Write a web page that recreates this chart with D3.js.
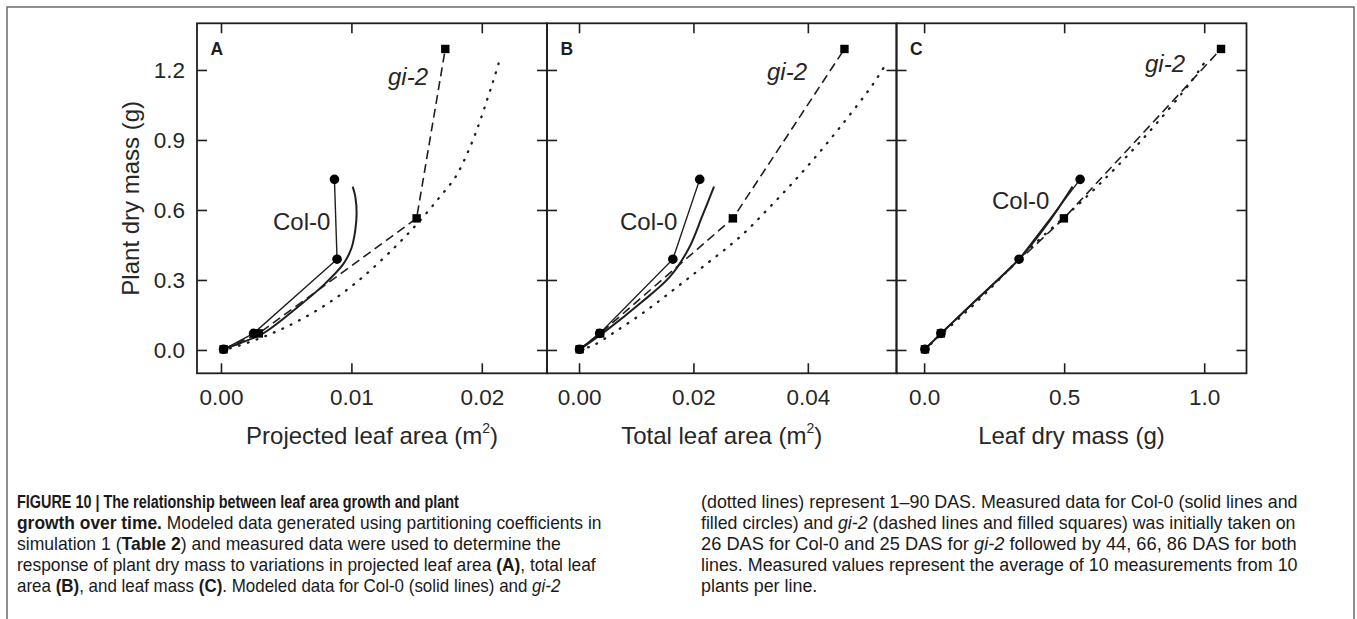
<!DOCTYPE html>
<html>
<head>
<meta charset="utf-8">
<script src="https://cdn.jsdelivr.net/npm/d3@7"></script>
<style>
  body { margin: 0; background: #fff; }
  svg { display: block; font-family: "Liberation Sans", Arial, Helvetica, sans-serif; }
</style>
</head>
<body>
<svg id="fig" width="1357" height="619"></svg>
<script>
// ---- Measured data: plant dry mass (g) at 26/25, 44, 66, 86 DAS ----
const col0DryMass  = [0.003, 0.071, 0.389, 0.731];
const gi2DryMass   = [0.003, 0.071, 0.564, 1.290];
// projected leaf area (m2)
const col0ProjArea = [0.0002, 0.0025, 0.0089, 0.0087];
const gi2ProjArea  = [0.0002, 0.0029, 0.0150, 0.0172];
// total leaf area (m2)
const col0TotalArea = [0.0001, 0.0036, 0.0164, 0.0211];
const gi2TotalArea  = [0.0001, 0.0037, 0.0269, 0.0464];
// leaf dry mass (g)
const col0LeafMass = [0.003, 0.060, 0.339, 0.557];
const gi2LeafMass  = [0.003, 0.060, 0.499, 1.060];

// ---- Modeled data, 1-90 DAS: [x, plant dry mass] ----
const col0ModelA = [[0,0],[0.0015,0.030],[0.0032,0.070],[0.0058,0.180],[0.0079,0.280],[0.0094,0.370],
                    [0.0100,0.436],[0.0103,0.514],[0.0104,0.586],[0.0103,0.657],[0.0101,0.700]];
const gi2ModelA  = [[0,0],[0.0007,0.007],[0.0033,0.057],[0.0058,0.121],[0.0084,0.207],[0.0109,0.314],
                    [0.0135,0.450],[0.0153,0.557],[0.0168,0.657],[0.0180,0.743],[0.0190,0.857],
                    [0.0198,0.971],[0.0204,1.071],[0.0209,1.157],[0.0213,1.230]];
const col0ModelB = [[0,0],[0.0049,0.086],[0.0107,0.200],[0.0159,0.314],[0.0192,0.436],[0.0215,0.571],[0.0236,0.700]];
const gi2ModelB  = [[0,0],[0.0025,0.020],[0.0063,0.078],[0.0117,0.168],[0.0171,0.269],[0.0224,0.371],
                    [0.0282,0.486],[0.0340,0.629],[0.0399,0.786],[0.0457,0.957],[0.0515,1.143],[0.0539,1.236]];
const col0ModelC = [[0,0],[0.060,0.070],[0.200,0.230],[0.340,0.390],[0.440,0.540],[0.530,0.700]];
const gi2ModelC  = [[0,0],[0.060,0.065],[0.200,0.220],[0.378,0.436],[0.568,0.643],[0.711,0.814],
                    [0.830,0.971],[0.949,1.143],[1.000,1.230]];

// ---- Tick values ----
const yTicks  = [0, 0.3, 0.6, 0.9, 1.2];
const xTicksA = [0, 0.01, 0.02];
const xTicksB = [0, 0.02, 0.04];
const xTicksC = [0, 0.5, 1.0];

const svg = d3.select("#fig");
const ink = "#1e1e1e";

// outer figure frame
svg.append("rect").attr("x", 7).attr("y", 7).attr("width", 1347).attr("height", 640)
  .attr("fill", "none").attr("stroke", "#6a6a6a").attr("stroke-width", 1.5);

const plotTop = 23.3, plotBottom = 373.3;
const y = d3.scaleLinear().domain([-0.1, 1.4]).range([plotBottom, plotTop]);

const panels = [
  { letter: "A", left: 197, right: 547, xDomain: [-0.00184, 0.0250], ticks: xTicksA, fmt: ".2f",
    title: "Projected leaf area (m", sup: "2", end: ")",
    col0X: col0ProjArea, gi2X: gi2ProjArea, col0Model: col0ModelA, gi2Model: gi2ModelA,
    gi2Label: [388, 85], col0Label: [273, 230] },
  { letter: "B", left: 547, right: 896.5, xDomain: [-0.0056, 0.0555], ticks: xTicksB, fmt: ".2f",
    title: "Total leaf area (m", sup: "2", end: ")",
    col0X: col0TotalArea, gi2X: gi2TotalArea, col0Model: col0ModelB, gi2Model: gi2ModelB,
    gi2Label: [767, 80], col0Label: [620, 230] },
  { letter: "C", left: 896.5, right: 1246.5, xDomain: [-0.0986, 1.151], ticks: xTicksC, fmt: ".1f",
    title: "Leaf dry mass (g)", sup: null, end: "",
    col0X: col0LeafMass, gi2X: gi2LeafMass, col0Model: col0ModelC, gi2Model: gi2ModelC,
    gi2Label: [1145, 72], col0Label: [992, 209] }
];

const tickLen = 10;

function styleAxis(g) {
  g.select(".domain").remove();
  g.selectAll(".tick line").attr("stroke", ink).attr("stroke-width", 1.6);
  g.selectAll(".tick text").attr("fill", "#262626").attr("font-size", 22.5)
    .attr("font-family", '"Liberation Sans", Arial, sans-serif');
}

panels.forEach((p, i) => {
  const x = d3.scaleLinear().domain(p.xDomain).range([p.left, p.right]);
  const g = svg.append("g");

  // ticks on all four sides, pointing inward
  g.append("g").attr("transform", `translate(0,${plotBottom})`)
    .call(d3.axisBottom(x).tickValues(p.ticks).tickSize(-tickLen).tickSizeOuter(0)
      .tickPadding(16).tickFormat(d3.format(p.fmt)))
    .call(styleAxis);
  g.append("g").attr("transform", `translate(0,${plotTop})`)
    .call(d3.axisTop(x).tickValues(p.ticks).tickSize(-tickLen).tickSizeOuter(0).tickFormat(""))
    .call(styleAxis);
  g.append("g").attr("transform", `translate(${p.left},0)`)
    .call(d3.axisLeft(y).tickValues(yTicks).tickSize(-tickLen).tickSizeOuter(0)
      .tickPadding(12).tickFormat(i === 0 ? d3.format(".1f") : ""))
    .call(styleAxis);
  g.append("g").attr("transform", `translate(${p.right},0)`)
    .call(d3.axisRight(y).tickValues(yTicks).tickSize(-tickLen).tickSizeOuter(0).tickFormat(""))
    .call(styleAxis);

  // panel frame
  g.append("rect").attr("x", p.left).attr("y", plotTop)
    .attr("width", p.right - p.left).attr("height", plotBottom - plotTop)
    .attr("fill", "none").attr("stroke", ink).attr("stroke-width", 1.8);

  const smooth = d3.line().x(d => x(d[0])).y(d => y(d[1])).curve(d3.curveCatmullRom.alpha(0.5));
  const straight = d3.line().x(d => x(d[0])).y(d => y(d[1]));

  // modeled curves
  g.append("path").attr("d", smooth(p.gi2Model)).attr("fill", "none")
    .attr("stroke", ink).attr("stroke-width", 2.3).attr("stroke-linecap", "round")
    .attr("stroke-dasharray", "0.8,8.5");
  g.append("path").attr("d", smooth(p.col0Model)).attr("fill", "none")
    .attr("stroke", ink).attr("stroke-width", 2);

  // measured lines
  const col0Pts = p.col0X.map((v, k) => [v, col0DryMass[k]]);
  const gi2Pts = p.gi2X.map((v, k) => [v, gi2DryMass[k]]);
  g.append("path").attr("d", straight(gi2Pts)).attr("fill", "none")
    .attr("stroke", ink).attr("stroke-width", 1.6).attr("stroke-dasharray", "9,5");
  g.append("path").attr("d", straight(col0Pts)).attr("fill", "none")
    .attr("stroke", ink).attr("stroke-width", 1.4);

  // markers
  g.selectAll("circle.col0").data(col0Pts).join("circle").attr("class", "col0")
    .attr("cx", d => x(d[0])).attr("cy", d => y(d[1])).attr("r", 4.8).attr("fill", "#000");
  const s = 8.4;
  g.selectAll("rect.gi2").data(gi2Pts).join("rect").attr("class", "gi2")
    .attr("x", d => x(d[0]) - s / 2).attr("y", d => y(d[1]) - s / 2)
    .attr("width", s).attr("height", s).attr("fill", "#000");

  // panel letter and line labels
  g.append("text").attr("x", p.left + 13.5).attr("y", 55).attr("font-size", 17.5)
    .attr("font-weight", "bold").attr("fill", ink).text(p.letter);
  g.append("text").attr("x", p.gi2Label[0]).attr("y", p.gi2Label[1]).attr("font-size", 24)
    .attr("font-style", "italic").attr("fill", "#262626").text("gi-2");
  g.append("text").attr("x", p.col0Label[0]).attr("y", p.col0Label[1]).attr("font-size", 24)
    .attr("fill", "#262626").text("Col-0");

  // x-axis title
  const t = g.append("text").attr("x", (p.left + p.right) / 2).attr("y", 444)
    .attr("text-anchor", "middle").attr("font-size", 24).attr("fill", "#262626");
  t.append("tspan").text(p.title);
  if (p.sup) {
    t.append("tspan").attr("font-size", 14).attr("dy", -11).text(p.sup);
    t.append("tspan").attr("dy", 11).text(p.end);
  }
});

// y-axis title
svg.append("text").attr("transform", `translate(138.5,${(plotTop + plotBottom) / 2}) rotate(-90)`)
  .attr("text-anchor", "middle").attr("font-size", 24).attr("fill", "#262626")
  .text("Plant dry mass (g)");

// ---- Caption ----
const capLeft = [
  [[{ t: "FIGURE 10 | The relationship between leaf area growth and plant", b: 1 }], 442],
  [[{ t: "growth over time.", b: 1 }, { t: " Modeled data generated using partitioning coefficients in" }], 585],
  [[{ t: "simulation 1 (" }, { t: "Table 2", b: 1 }, { t: ") and measured data were used to determine the" }], 544],
  [[{ t: "response of plant dry mass to variations in projected leaf area " }, { t: "(A)", b: 1 }, { t: ", total leaf" }], 579],
  [[{ t: "area " }, { t: "(B)", b: 1 }, { t: ", and leaf mass " }, { t: "(C)", b: 1 },
    { t: ". Modeled data for Col-0 (solid lines) and " }, { t: "gi-2", i: 1 }], 544]
];
const capRight = [
  [[{ t: "(dotted lines) represent 1\u201390 DAS. Measured data for Col-0 (solid lines and" }], 597],
  [[{ t: "filled circles) and " }, { t: "gi-2", i: 1 }, { t: " (dashed lines and filled squares) was initially taken on" }], 595],
  [[{ t: "26 DAS for Col-0 and 25 DAS for " }, { t: "gi-2", i: 1 }, { t: " followed by 44, 66, 86 DAS for both" }], 596],
  [[{ t: "lines. Measured values represent the average of 10 measurements from 10" }], 597],
  [[{ t: "plants per line." }], null]
];

const capTop = 507.5, capStep = 21;
let lastScale = 1;
function captionColumn(lines, x0) {
  lines.forEach(([runs, width], k) => {
    const yy = capTop + k * capStep;
    const tx = svg.append("text").attr("x", 0).attr("y", 0).attr("font-size", 18).attr("fill", "#1a1a1a");
    runs.forEach(r => tx.append("tspan")
      .attr("font-weight", r.b ? "bold" : null)
      .attr("font-style", r.i ? "italic" : null)
      .text(r.t));
    const w = tx.node().getComputedTextLength();
    const sc = width ? width / w : lastScale;
    lastScale = sc;
    tx.attr("transform", `translate(${x0},${yy}) scale(${sc},1)`);
  });
}
captionColumn(capLeft, 17);
captionColumn(capRight, 701);
</script>
</body>
</html>
